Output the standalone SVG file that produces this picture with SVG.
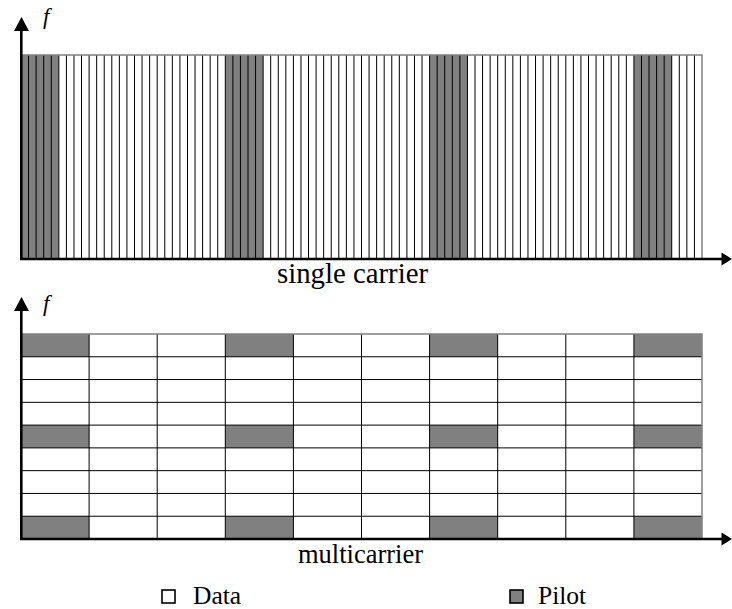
<svg xmlns="http://www.w3.org/2000/svg" width="732" height="609" viewBox="0 0 732 609">
<style>
.pilot{fill:#808080;stroke:none}
.cell{fill:none;stroke:#000;stroke-width:1}
.frame{fill:none;stroke:#808080;stroke-width:1.5}
.axis{stroke:#000;stroke-width:2.6;fill:none}
.head{fill:#000}
.lbl{font-family:"Liberation Serif","Times New Roman",serif;fill:#000}
.fl{font-family:"Liberation Serif","Times New Roman",serif;font-style:italic;font-size:23px;fill:#000}
</style>
<rect width="732" height="609" fill="#fff"/>
<g id="single-carrier">
  <rect class="pilot" x="21" y="55" width="37.83" height="204"/>
  <rect class="pilot" x="225.3" y="55" width="37.83" height="204"/>
  <rect class="pilot" x="429.6" y="55" width="37.83" height="204"/>
  <rect class="pilot" x="633.9" y="55" width="37.83" height="204"/>
  <path class="cell" d="M28.57 55v204M36.13 55v204M43.7 55v204M51.27 55v204M58.83 55v204M66.4 55v204M73.97 55v204M81.53 55v204M89.1 55v204M96.67 55v204M104.23 55v204M111.8 55v204M119.37 55v204M126.93 55v204M134.5 55v204M142.07 55v204M149.63 55v204M157.2 55v204M164.77 55v204M172.33 55v204M179.9 55v204M187.47 55v204M195.03 55v204M202.6 55v204M210.17 55v204M217.73 55v204M225.3 55v204M232.87 55v204M240.43 55v204M248 55v204M255.57 55v204M263.13 55v204M270.7 55v204M278.27 55v204M285.83 55v204M293.4 55v204M300.97 55v204M308.53 55v204M316.1 55v204M323.67 55v204M331.23 55v204M338.8 55v204M346.37 55v204M353.93 55v204M361.5 55v204M369.07 55v204M376.63 55v204M384.2 55v204M391.77 55v204M399.33 55v204M406.9 55v204M414.47 55v204M422.03 55v204M429.6 55v204M437.17 55v204M444.73 55v204M452.3 55v204M459.87 55v204M467.43 55v204M475 55v204M482.57 55v204M490.13 55v204M497.7 55v204M505.27 55v204M512.83 55v204M520.4 55v204M527.97 55v204M535.53 55v204M543.1 55v204M550.67 55v204M558.23 55v204M565.8 55v204M573.37 55v204M580.93 55v204M588.5 55v204M596.07 55v204M603.63 55v204M611.2 55v204M618.77 55v204M626.33 55v204M633.9 55v204M641.47 55v204M649.03 55v204M656.6 55v204M664.17 55v204M671.73 55v204M679.3 55v204M686.87 55v204M694.43 55v204"/>
  <path class="frame" d="M21 55H702V259"/>
  <text class="lbl" x="352.5" y="283" font-size="28.8" text-anchor="middle">single carrier</text>
</g>
<g id="multicarrier">
  <rect class="pilot" x="21" y="334" width="68.1" height="22.78"/>
  <rect class="pilot" x="225.3" y="334" width="68.1" height="22.78"/>
  <rect class="pilot" x="429.6" y="334" width="68.1" height="22.78"/>
  <rect class="pilot" x="633.9" y="334" width="68.1" height="22.78"/>
  <rect class="pilot" x="21" y="425.11" width="68.1" height="22.78"/>
  <rect class="pilot" x="225.3" y="425.11" width="68.1" height="22.78"/>
  <rect class="pilot" x="429.6" y="425.11" width="68.1" height="22.78"/>
  <rect class="pilot" x="633.9" y="425.11" width="68.1" height="22.78"/>
  <rect class="pilot" x="21" y="516.22" width="68.1" height="22.78"/>
  <rect class="pilot" x="225.3" y="516.22" width="68.1" height="22.78"/>
  <rect class="pilot" x="429.6" y="516.22" width="68.1" height="22.78"/>
  <rect class="pilot" x="633.9" y="516.22" width="68.1" height="22.78"/>
  <path class="cell" d="M21 356.78H702M21 379.56H702M21 402.33H702M21 425.11H702M21 447.89H702M21 470.67H702M21 493.44H702M21 516.22H702M89.1 334V539M157.2 334V539M225.3 334V539M293.4 334V539M361.5 334V539M429.6 334V539M497.7 334V539M565.8 334V539M633.9 334V539"/>
  <path class="frame" d="M21 334H702V539"/>
  <text class="lbl" x="298" y="563" font-size="26.5">multicarrier</text>
</g>
<g id="connectors">
  <path class="axis" d="M21.3 259V28"/>
  <path class="head" d="M21.5 17L14 31H29Z"/>
  <path class="axis" d="M21.3 539V307"/>
  <path class="head" d="M21.5 297L14 311H29Z"/>
  <path class="axis" d="M20 259H724"/>
  <path class="head" d="M732 259L721.5 252.5V265.5Z"/>
  <path class="axis" d="M20 539H724"/>
  <path class="head" d="M732 539L721.5 532.5V545.5Z"/>
  <text class="fl" x="43" y="24">f</text>
  <text class="fl" x="43" y="311">f</text>
</g>
<g id="legend-data">
  <rect x="162" y="590" width="13" height="13" fill="#fff" stroke="#000" stroke-width="1.6"/>
  <text class="lbl" x="193" y="604" font-size="25.5">Data</text>
</g>
<g id="legend-pilot">
  <rect x="510" y="590" width="13" height="13" fill="#808080" stroke="#000" stroke-width="1.6"/>
  <text class="lbl" x="538" y="604" font-size="25.5">Pilot</text>
</g>
</svg>
